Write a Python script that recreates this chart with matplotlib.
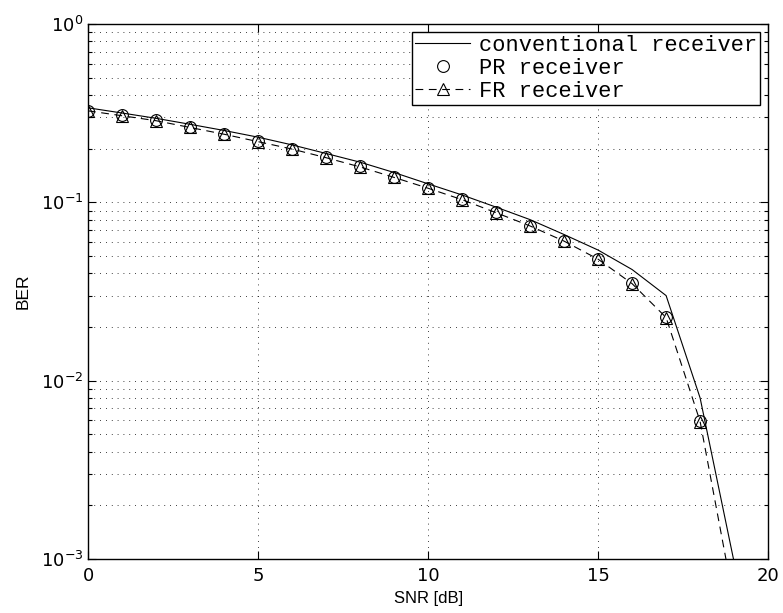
import matplotlib
matplotlib.use("Agg")
import matplotlib.pyplot as plt
from matplotlib.ticker import LogLocator, NullFormatter, FixedLocator

snr = list(range(0, 20))
ber_conv = [0.339, 0.317, 0.296, 0.274, 0.253, 0.232, 0.210, 0.188, 0.168, 0.147,
            0.127, 0.110, 0.094, 0.080, 0.066, 0.054, 0.042, 0.030, 0.0080, 0.00096]
ber_pr = [0.327, 0.307, 0.288, 0.264, 0.242, 0.220, 0.1995, 0.179, 0.159, 0.139,
          0.1205, 0.104, 0.0879, 0.074, 0.0609, 0.0483, 0.0352, 0.0228, 0.00594, 0.00057]
ber_fr = [0.326, 0.306, 0.287, 0.263, 0.241, 0.219, 0.199, 0.178, 0.158, 0.138,
          0.1200, 0.1035, 0.0875, 0.0737, 0.0606, 0.0480, 0.0350, 0.0226, 0.00590, 0.00057]

plt.rcParams['font.family'] = ['DejaVu Sans']
plt.rcParams['mathtext.fontset'] = 'dejavusans'

fig = plt.figure(figsize=(7.83, 6.13), dpi=100)
ax = fig.add_axes([0.1124, 0.0881, 0.8686, 0.8727])

lw = 0.8
ax.plot(snr, ber_conv, '-', color='black', lw=lw, label='conventional receiver')
ax.plot(snr, ber_pr, 'o', color='black', mfc='none', ms=8.5, mew=lw, ls='none', label='PR receiver')
ax.plot(snr, ber_fr, '^', color='black', mfc='none', ms=8.5, mew=lw, ls=(0, (7, 5)), lw=lw,
        label='FR receiver')

ax.set_yscale('log')
ax.set_xlim(0, 20)
ax.set_ylim(1e-3, 1)
ax.xaxis.set_major_locator(FixedLocator([0, 5, 10, 15, 20]))
ax.yaxis.set_major_locator(LogLocator(base=10, numticks=10))
ax.yaxis.set_minor_locator(LogLocator(base=10, subs=range(2, 10), numticks=20))
ax.yaxis.set_minor_formatter(NullFormatter())

ax.grid(True, which='major', axis='both', ls=(0, (1, 6)), color='black', lw=0.6)
ax.grid(True, which='minor', axis='y', ls=(0, (1, 6)), color='black', lw=0.6)

ax.tick_params(which='both', direction='in', top=True, right=True, labelsize=13, width=0.8)
ax.tick_params(which='major', length=5.5)
ax.tick_params(which='minor', length=3)
ax.tick_params(axis='x', which='major', pad=6)
for s in ax.spines.values():
    s.set_linewidth(1.0)

ax.set_xlabel('SNR [dB]', fontsize=12, family='Liberation Sans', labelpad=4)
ax.set_ylabel('BER', fontsize=12.5, family='Liberation Sans', labelpad=7)

leg = ax.legend(loc='upper right', prop={'family': 'Liberation Mono', 'size': 15.8},
                fancybox=False, framealpha=1, edgecolor='black', handlelength=2.5,
                borderpad=0.15, labelspacing=0.08, handletextpad=0.4,
                borderaxespad=0.35)
leg.get_frame().set_linewidth(1.0)

fig.savefig('out.png', dpi=100)
